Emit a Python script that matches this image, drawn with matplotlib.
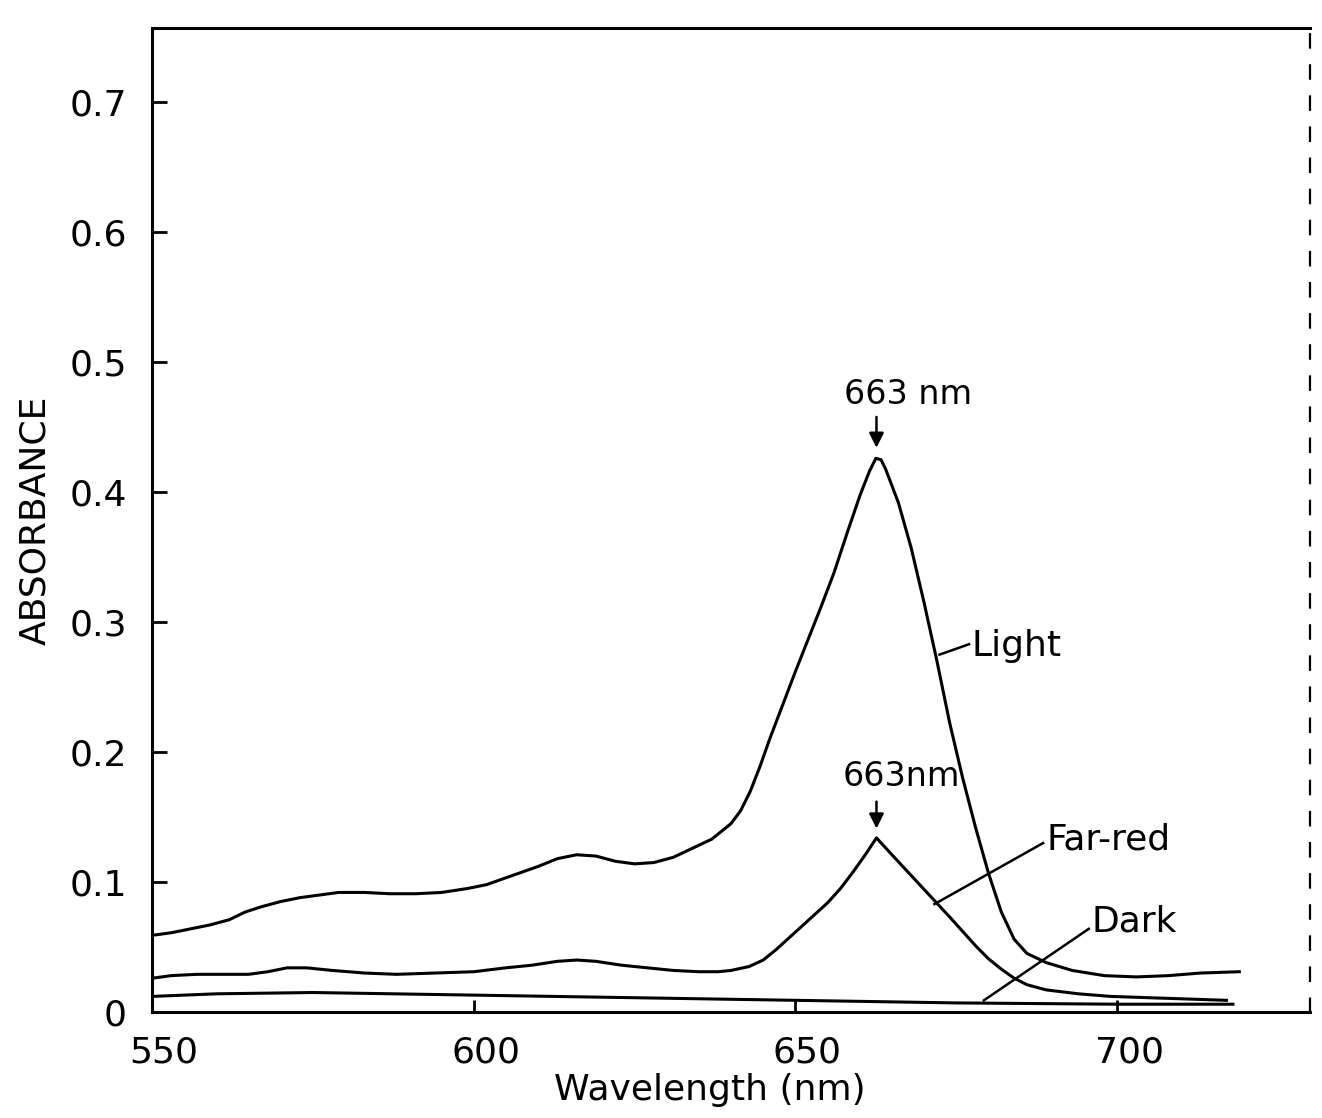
import matplotlib.pyplot as plt
import matplotlib.transforms as mtransforms
import numpy as np

# 吸光度光谱数据
light_nm = [550, 553, 556, 559, 562, 564.5, 567, 570, 573, 576, 579, 583, 587, 591, 595, 599,
            602, 606, 610, 613, 616, 619, 622, 625, 628, 631, 634, 637, 640, 641.5, 643, 644.5,
            646, 648, 650, 652, 654, 656, 658, 660, 661.5, 662.5, 663.3, 664, 665, 666, 668,
            670, 672, 674, 676, 678, 680, 682, 684, 686, 689, 693, 698, 703, 708, 713, 719]
light_abs = [0.059, 0.061, 0.064, 0.067, 0.071, 0.077, 0.081, 0.085, 0.088, 0.090, 0.092, 0.092,
             0.091, 0.091, 0.092, 0.095, 0.098, 0.105, 0.112, 0.118, 0.121, 0.120, 0.116, 0.114,
             0.115, 0.119, 0.126, 0.133, 0.145, 0.155, 0.170, 0.189, 0.210, 0.236, 0.262, 0.287,
             0.312, 0.338, 0.368, 0.397, 0.416, 0.426, 0.425, 0.418, 0.405, 0.392, 0.357, 0.315,
             0.270, 0.222, 0.180, 0.142, 0.107, 0.077, 0.056, 0.045, 0.038, 0.032, 0.028, 0.027,
             0.028, 0.030, 0.031]

farred_nm = [550, 553, 557, 561, 565, 568, 571, 574, 578, 583, 588, 594, 600, 605, 609, 613, 616,
             619, 623, 627, 631, 635, 638, 640, 642.8, 645, 647, 649, 651, 653, 655, 657, 659, 661,
             662.6, 665, 668, 671, 674, 676, 678, 680, 682, 684, 686, 689, 694, 699, 705, 711, 717]
farred_abs = [0.026, 0.028, 0.029, 0.029, 0.029, 0.031, 0.034, 0.034, 0.032, 0.030, 0.029, 0.030,
              0.031, 0.034, 0.036, 0.039, 0.040, 0.039, 0.036, 0.034, 0.032, 0.031, 0.031, 0.032,
              0.035, 0.040, 0.048, 0.057, 0.066, 0.075, 0.084, 0.095, 0.108, 0.122, 0.134, 0.121,
              0.105, 0.089, 0.073, 0.062, 0.051, 0.041, 0.033, 0.026, 0.021, 0.017, 0.014, 0.012,
              0.011, 0.010, 0.009]

dark_nm = [550, 560, 575, 600, 625, 650, 675, 700, 718]
dark_abs = [0.012, 0.014, 0.015, 0.013, 0.011, 0.009, 0.007, 0.006, 0.006]

x_ticks = [550, 600, 650, 700]
y_ticks = [0, 0.1, 0.2, 0.3, 0.4, 0.5, 0.6, 0.7]
y_tick_labels = ['0', '0.1', '0.2', '0.3', '0.4', '0.5', '0.6', '0.7']

plt.rcParams['font.family'] = ['DejaVu Sans']

fig = plt.figure(figsize=(13.22, 11.18), dpi=100)
ax = fig.add_axes([0.115, 0.0948, 0.876, 0.880])

# 三条曲线
for nm, ab in [(light_nm, light_abs), (farred_nm, farred_abs), (dark_nm, dark_abs)]:
    ax.plot(nm, ab, color='black', linewidth=2.2)

ax.set_xlim(550, 730)
ax.set_ylim(0, 0.757)

ax.set_xticks(x_ticks)
ax.set_xticklabels([str(t) for t in x_ticks], fontsize=26)
ax.set_yticks(y_ticks)
ax.set_yticklabels(y_tick_labels, fontsize=26)
ax.tick_params(axis='x', direction='in', length=9, width=2, pad=17)
ax.tick_params(axis='y', direction='in', length=11, width=2, pad=18)

# x刻度标签稍微偏右，和原图一致
offset = mtransforms.ScaledTranslation(12 / 100, 0, fig.dpi_scale_trans)
for lab in ax.get_xticklabels():
    lab.set_transform(lab.get_transform() + offset)

for side in ['left', 'bottom', 'top']:
    ax.spines[side].set_linewidth(2.2)
ax.spines['right'].set_linewidth(1.6)
ax.spines['right'].set_linestyle((0, (6, 8)))

# 坐标轴标题
fig.text(710 / 1322, 1 - 1090 / 1118, 'Wavelength (nm)', fontsize=26, ha='center', va='center')
fig.text(35 / 1322, 1 - 520 / 1118, 'ABSORBANCE', fontsize=26, rotation=90, ha='center', va='center')

# 峰值标注
arrow = dict(arrowstyle='-|>', color='black', linewidth=1.8, mutation_scale=22)
ax.annotate('', xy=(662.6, 0.432), xytext=(662.6, 0.460), arrowprops=arrow)
ax.text(667.5, 0.475, '663 nm', fontsize=24, ha='center', va='center')
ax.annotate('', xy=(662.6, 0.139), xytext=(662.6, 0.164), arrowprops=arrow)
ax.text(666.4, 0.181, '663nm', fontsize=24, ha='center', va='center')

# 曲线名称及引线
ax.plot([672.4, 677.0], [0.275, 0.283], color='black', linewidth=1.8)
ax.text(677.4, 0.282, 'Light', fontsize=26, ha='left', va='center')
ax.plot([671.6, 688.5], [0.083, 0.130], color='black', linewidth=1.8)
ax.text(689.0, 0.133, 'Far-red', fontsize=26, ha='left', va='center')
ax.plot([679.3, 695.6], [0.009, 0.064], color='black', linewidth=1.8)
ax.text(696.0, 0.070, 'Dark', fontsize=26, ha='left', va='center')

plt.savefig('out.png')
